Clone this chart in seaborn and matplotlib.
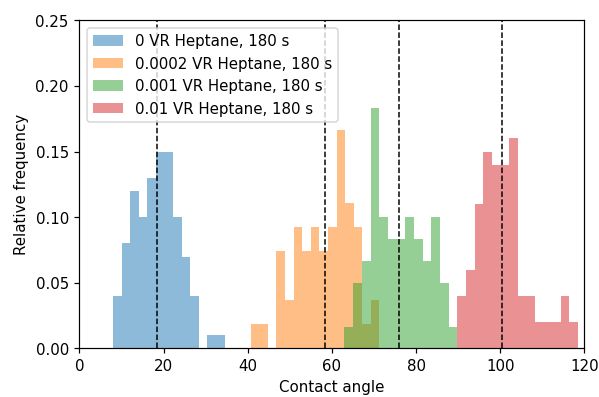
import numpy as np
import pandas as pd
import matplotlib
matplotlib.use("Agg")
import matplotlib.pyplot as plt
import seaborn as sns

labels = ["0 VR Heptane, 180 s", "0.0002 VR Heptane, 180 s",
          "0.001 VR Heptane, 180 s", "0.01 VR Heptane, 180 s"]

# bin ranges (min, max) of contact angle per sample
blue_range = (8.0, 34.5)
orange_range = (40.7, 71.3)
green_range = (63.0, 89.8)
red_range = (89.8, 118.5)

# relative frequencies per bin
blue_freq = [0.04, 0.08, 0.12, 0.10, 0.13, 0.15, 0.15, 0.10, 0.07, 0.04, 0.00, 0.01, 0.01]
orange_counts = [1, 1, 0, 4, 2, 5, 4, 5, 4, 5, 9, 6, 5, 1, 2]
orange_n = 54
green_counts = [1, 3, 4, 11, 6, 5, 5, 6, 5, 4, 6, 3, 1]
green_n = 60
red_freq = [0.04, 0.06, 0.11, 0.15, 0.14, 0.14, 0.16, 0.04, 0.04, 0.02, 0.02, 0.02, 0.04, 0.02]

# mean contact angles (dashed lines)
means = [18.5, 58.4, 76.0, 100.4]

series = [
    (blue_range, np.array(blue_freq)),
    (orange_range, np.array(orange_counts) / orange_n),
    (green_range, np.array(green_counts) / green_n),
    (red_range, np.array(red_freq)),
]
colors = ["C0", "C1", "C2", "C3"]

dpi = 108
fig = plt.figure(figsize=(599.4 / dpi, 397.4 / dpi), dpi=dpi)
W, H = 599, 397
ax = fig.add_axes([79.3 / W, (H - 348.5) / H, (584 - 79.3) / W, (348.5 - 20.7) / H])

for (rng, freq), c, lab in zip(series, colors, labels):
    edges = np.linspace(rng[0], rng[1], len(freq) + 1)
    centers = (edges[:-1] + edges[1:]) / 2
    df = pd.DataFrame({"angle": centers, "freq": freq})
    sns.histplot(data=df, x="angle", weights="freq", bins=edges.tolist(),
                 stat="count", color=c, alpha=0.5, linewidth=0, label=lab, ax=ax)

for m in means:
    ax.axvline(m, color="k", linestyle="--", linewidth=1)

ax.set_xlim(0, 120)
ax.set_ylim(0, 0.25)
ax.set_xticks([0, 20, 40, 60, 80, 100, 120])
ax.set_yticks([0.0, 0.05, 0.10, 0.15, 0.20, 0.25])
ax.set_yticklabels(["0.00", "0.05", "0.10", "0.15", "0.20", "0.25"])
ax.set_xlabel("Contact angle")
ax.set_ylabel("Relative frequency")
ax.legend(loc="upper left")

fig.savefig("out.png", dpi=dpi)
